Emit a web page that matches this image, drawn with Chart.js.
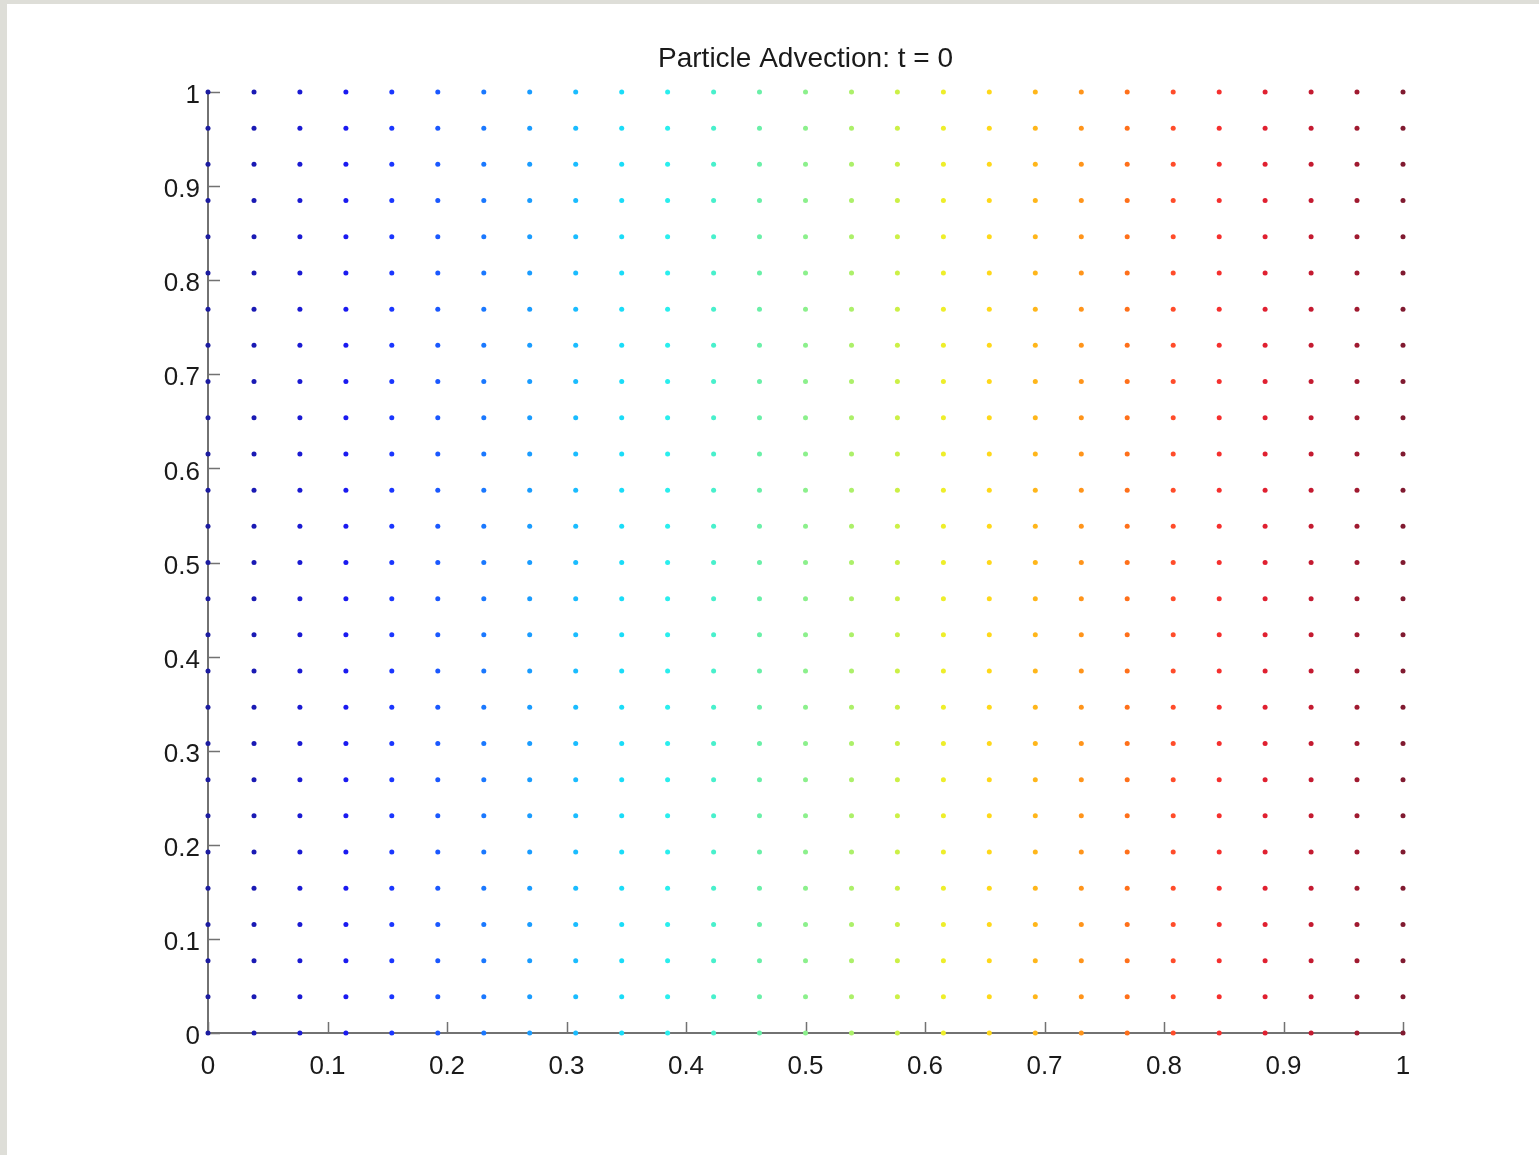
<!DOCTYPE html>
<html>
<head>
<meta charset="utf-8">
<title>Particle Advection</title>
<script src="https://cdn.jsdelivr.net/npm/chart.js@4/dist/chart.umd.min.js"></script>
<style>
  html, body { margin: 0; padding: 0; background: #fff; overflow: hidden; }
  #plot { position: absolute; left: 0; top: 0; }
  .edge { position: absolute; background: #dedeD8; }
</style>
</head>
<body>
<canvas id="plot" width="1539" height="1155"></canvas>
<div class="edge" style="left:0;top:0;width:1539px;height:4px"></div>
<div class="edge" style="left:0;top:0;width:7px;height:1155px"></div>
<script>
// particle positions at t = 0 (27 x 27 grid)
var xPositions = [0, 0.0385, 0.0769, 0.1154, 0.1538, 0.1923, 0.2308, 0.2692, 0.3077,
    0.3462, 0.3846, 0.4231, 0.4615, 0.5, 0.5385, 0.5769, 0.6154, 0.6538, 0.6923,
    0.7308, 0.7692, 0.8077, 0.8462, 0.8846, 0.9231, 0.9615, 1];
var yPositions = [0, 0.0385, 0.0769, 0.1154, 0.1538, 0.1923, 0.2308, 0.2692, 0.3077,
    0.3462, 0.3846, 0.4231, 0.4615, 0.5, 0.5385, 0.5769, 0.6154, 0.6538, 0.6923,
    0.7308, 0.7692, 0.8077, 0.8462, 0.8846, 0.9231, 0.9615, 1];
var tickValues = [0, 0.1, 0.2, 0.3, 0.4, 0.5, 0.6, 0.7, 0.8, 0.9, 1];

// jet-ish colours, one per column (a bit softer, like the screenshot)
var columnColors = ['#1c1ca0', '#1a1ab4', '#1a1ad2', '#1a1af0', '#1a36ff', '#1a58ff',
    '#1a78ff', '#1a9cff', '#1abcff', '#1adcf8', '#2aeeee', '#48f0cc', '#6af0a8',
    '#8cf08c', '#acf06a', '#ccf046', '#eeee2a', '#ffd81a', '#ffb61a', '#ff941a',
    '#ff701a', '#ff4c2a', '#f5302e', '#e02030', '#c41a30', '#a01a30', '#801a30'];

var axisColor = '#727272';
var fontFamily = '"Liberation Sans", Arial, Helvetica, sans-serif';

var datasets = [];
for (var i = 0; i < xPositions.length; i++) {
    var pts = [];
    for (var j = 0; j < yPositions.length; j++) {
        pts.push({ x: xPositions[i], y: yPositions[j] });
    }
    datasets.push({
        data: pts,
        backgroundColor: columnColors[i],
        borderWidth: 0,
        pointRadius: 2.5,
        clip: false
    });
}

// matlab style inward tick marks
var inwardTicks = {
    id: 'inwardTicks',
    beforeDatasetsDraw: function (chart) {
        var ctx = chart.ctx;
        var area = chart.chartArea;
        var xs = chart.scales.x, ys = chart.scales.y;
        ctx.save();
        ctx.strokeStyle = axisColor;
        ctx.lineWidth = 1.5;
        ctx.beginPath();
        tickValues.forEach(function (v) {
            var px = Math.round(xs.getPixelForValue(v)) + 0.5;
            ctx.moveTo(px, area.bottom);
            ctx.lineTo(px, area.bottom - 11);
            var py = Math.round(ys.getPixelForValue(v)) + 0.5;
            ctx.moveTo(area.left, py);
            ctx.lineTo(area.left + 12, py);
        });
        ctx.stroke();
        ctx.restore();
    }
};

new Chart(document.getElementById('plot'), {
    type: 'scatter',
    data: { datasets: datasets },
    plugins: [inwardTicks],
    options: {
        responsive: false,
        animation: false,
        layout: { padding: { left: 108, right: 136, top: 0, bottom: 62 } },
        plugins: {
            legend: { display: false },
            tooltip: { enabled: false },
            title: {
                display: true,
                fullSize: false,
                text: 'Particle Advection: t = 0',
                color: '#1a1a1a',
                font: { family: fontFamily, size: 28, weight: 'normal' },
                padding: { top: 42, bottom: 16.4 }
            }
        },
        scales: {
            x: {
                type: 'linear',
                min: 0,
                max: 1,
                afterFit: function (s) { s.height = 60; },
                afterBuildTicks: function (s) { s.ticks = tickValues.map(function (v) { return { value: v }; }); },
                grid: { display: false, drawTicks: false },
                border: { display: true, color: axisColor, width: 2 },
                ticks: {
                    color: '#1a1a1a',
                    font: { family: fontFamily, size: 26 },
                    padding: 18,
                    maxRotation: 0,
                    autoSkip: false,
                    callback: function (v) { return String(v); }
                }
            },
            y: {
                type: 'linear',
                min: 0,
                max: 1,
                afterFit: function (s) { s.width = 100; },
                afterBuildTicks: function (s) { s.ticks = tickValues.map(function (v) { return { value: v }; }); },
                grid: { display: false, drawTicks: false },
                border: { display: true, color: axisColor, width: 2 },
                ticks: {
                    color: '#1a1a1a',
                    font: { family: fontFamily, size: 26 },
                    padding: 8,
                    labelOffset: 4,
                    autoSkip: false,
                    callback: function (v) { return String(v); }
                }
            }
        }
    }
});
</script>
</body>
</html>
